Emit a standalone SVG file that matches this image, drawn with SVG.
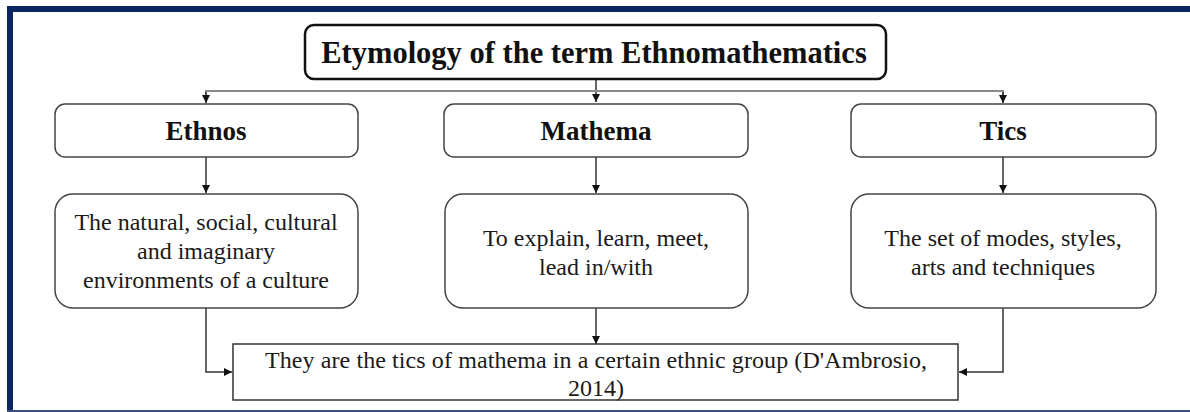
<svg xmlns="http://www.w3.org/2000/svg" width="1190" height="412" viewBox="0 0 1190 412">
<style>
.t{fill:#1a1a1a;text-anchor:middle;}
.h{font-family:"Liberation Serif",serif;font-weight:bold;font-size:27px;fill:#111;}
.b{font-family:"Liberation Serif","DejaVu Serif",serif;font-weight:normal;font-size:24px;}
.box{fill:#fff;stroke:#444;stroke-width:1.5;}
.title{fill:#fff;stroke:#111;stroke-width:2.5;}
.c{fill:none;stroke:#333;stroke-width:1.5;}
.cg{fill:none;stroke:#8a8a8a;stroke-width:2;}
</style>
<defs>
<marker id="ah" viewBox="0 0 10 10" refX="10" refY="5" markerWidth="8" markerHeight="8" markerUnits="userSpaceOnUse" orient="auto">
<path d="M0,0 L10,5 L0,10 Z" fill="#111"/>
</marker>
</defs>
<rect width="1190" height="412" fill="#fff"/>
<g id="frame">
<line x1="7" y1="9" x2="1190" y2="9" stroke="#0b2660" stroke-width="6"/>
<line x1="10" y1="6" x2="10" y2="412" stroke="#0b2660" stroke-width="6"/>
<line x1="7" y1="411" x2="1190" y2="411" stroke="#3b4f82" stroke-width="2"/>
</g>
<g id="connectors">
<line class="c" x1="596" y1="79" x2="596" y2="102" marker-end="url(#ah)"/>
<polyline class="cg" points="206,102 206,91 1003,91 1003,102"/>
<line class="c" x1="206" y1="92" x2="206" y2="103" marker-end="url(#ah)"/>
<line class="c" x1="1003" y1="92" x2="1003" y2="103" marker-end="url(#ah)"/>
<line class="c" x1="206" y1="157" x2="206" y2="193" marker-end="url(#ah)"/>
<line class="c" x1="596" y1="157" x2="596" y2="193" marker-end="url(#ah)"/>
<line class="c" x1="1003" y1="157" x2="1003" y2="193" marker-end="url(#ah)"/>
<polyline class="c" points="206,308 206,372 232,372" marker-end="url(#ah)"/>
<line class="c" x1="596" y1="308" x2="596" y2="344" marker-end="url(#ah)"/>
<polyline class="c" points="1003,308 1003,372 959,372" marker-end="url(#ah)"/>
</g>
<g id="title">
<rect class="title" x="305" y="25" width="581" height="54" rx="9"/>
<text class="t h" x="594" y="63" style="font-size:30.5px">Etymology of the term Ethnomathematics</text>
</g>
<g id="ethnos">
<rect class="box" x="55" y="104" width="303" height="53" rx="10"/>
<text class="t h" x="206" y="140">Ethnos</text>
</g>
<g id="mathema">
<rect class="box" x="444" y="104" width="304" height="53" rx="10"/>
<text class="t h" x="596" y="140">Mathema</text>
</g>
<g id="tics">
<rect class="box" x="851" y="104" width="305" height="53" rx="10"/>
<text class="t h" x="1003" y="140">Tics</text>
</g>
<g id="ethnos-desc">
<rect class="box" x="55" y="194" width="303" height="114" rx="18"/>
<text class="t b" x="206" y="230">The natural, social, cultural</text>
<text class="t b" x="206" y="259">and imaginary</text>
<text class="t b" x="206" y="288">environments of a culture</text>
</g>
<g id="mathema-desc">
<rect class="box" x="445" y="194" width="303" height="114" rx="18"/>
<text class="t b" x="596" y="246">To explain, learn, meet,</text>
<text class="t b" x="596" y="275">lead in/with</text>
</g>
<g id="tics-desc">
<rect class="box" x="851" y="194" width="305" height="114" rx="18"/>
<text class="t b" x="1003" y="246">The set of modes, styles,</text>
<text class="t b" x="1003" y="275">arts and techniques</text>
</g>
<g id="conclusion">
<rect x="233" y="344" width="725" height="56" fill="#fff" stroke="#333" stroke-width="1.5"/>
<text class="t b" x="596" y="368" textLength="662" lengthAdjust="spacing">They are the tics of mathema in a certain ethnic group (D'Ambrosio,</text>
<text class="t b" x="596" y="396">2014)</text>
</g>
</svg>
